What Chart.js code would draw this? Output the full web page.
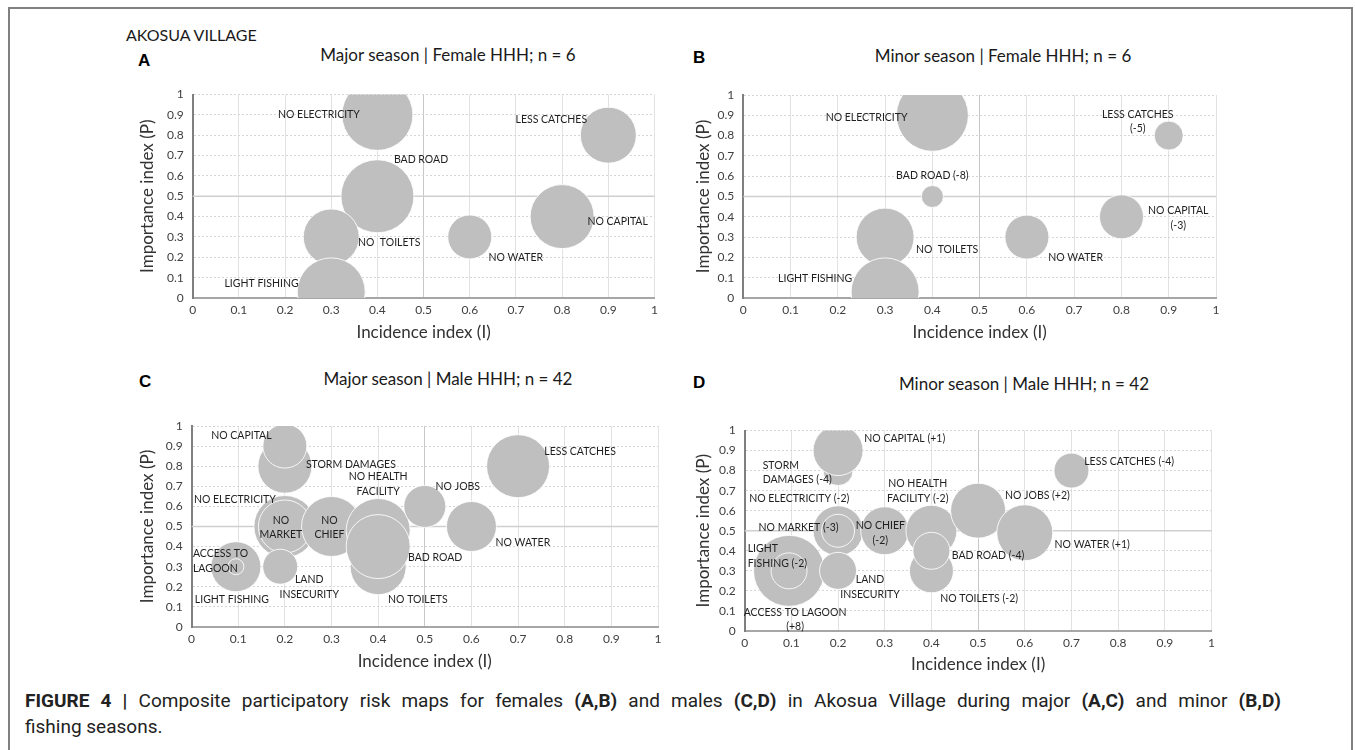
<!DOCTYPE html>
<html>
<head>
<meta charset="utf-8">
<script src="https://cdn.jsdelivr.net/npm/chart.js@4.4.0/dist/chart.umd.min.js"></script>
<style>
  html, body { margin:0; padding:0; }
  body { width:1355px; height:750px; background:#fff; position:relative; overflow:hidden; font-family: Lato, sans-serif; }
  #frame { position:absolute; left:8px; top:7px; width:1345px; height:800px; border:2px solid #808080; border-bottom:none; box-sizing:border-box; }
  canvas.cv { position:absolute; }
  .txt { position:absolute; white-space:nowrap; transform:translate(-50%,-50%); line-height:1; }
  .ptitle { font:17px Lato, sans-serif; color:#1a1a1a; }
  .letter { font:bold 17px "Liberation Sans", Arial, sans-serif; color:#000; transform:translate(0,-50%); }
  #village { font:16px Lato, sans-serif; color:#1a1a1a; transform:translate(0,-50%); }
  #caption { position:absolute; left:25px; top:688px; width:1256px; font:19px Roboto, sans-serif; color:#222; line-height:26px; }
  #caption .l1 { text-align:justify; text-align-last:justify; white-space:normal; }
  #caption b { font-weight:700; }
</style>
</head>
<body>
<div id="frame"></div>
<div id="village" class="txt" style="left:126px; top:34px;">AKOSUA VILLAGE</div>
<div class="txt letter" style="left:138px; top:61px;">A</div>
<div class="txt letter" style="left:693px; top:58px;">B</div>
<div class="txt letter" style="left:139px; top:382px;">C</div>
<div class="txt letter" style="left:693px; top:383px;">D</div>
<div class="txt ptitle" style="left:448px; top:54px;">Major season | Female HHH; n = 6</div>
<div class="txt ptitle" style="left:1003px; top:55px;">Minor season | Female HHH; n = 6</div>
<div class="txt ptitle" style="left:448px; top:378px;">Major season | Male HHH; n = 42</div>
<div class="txt ptitle" style="left:1024px; top:383px;">Minor season | Male HHH; n = 42</div>
<div id="caption"><div class="l1"><b>FIGURE 4 |</b> Composite participatory risk maps for females <b>(A,B)</b> and males <b>(C,D)</b> in Akosua Village during major <b>(A,C)</b> and minor <b>(B,D)</b></div><div>fishing seasons.</div></div>

<script>
// ---------------- DATA ----------------
const tickLabels = ['0','0.1','0.2','0.3','0.4','0.5','0.6','0.7','0.8','0.9','1'];
const xAxisTitle = 'Incidence index (I)';
const yAxisTitle = 'Importance index (P)';

// Panel A: Major season | Female HHH
const risksA      = ['NO ELECTRICITY','LESS CATCHES','BAD ROAD','NO CAPITAL','NO  TOILETS','NO WATER','LIGHT FISHING'];
const incidenceA  = [0.4, 0.9, 0.4, 0.8, 0.3, 0.6, 0.3];
const importanceA = [0.9, 0.8, 0.5, 0.4, 0.3, 0.3, 0.03];
const sizeA       = [35.5, 28, 36.5, 32, 28, 22, 34];

// Panel B: Minor season | Female HHH
const risksB      = ['NO ELECTRICITY','LESS CATCHES\n(-5)','BAD ROAD (-8)','NO CAPITAL\n(-3)','NO  TOILETS','NO WATER','LIGHT FISHING'];
const incidenceB  = [0.4, 0.9, 0.4, 0.8, 0.3, 0.6, 0.3];
const importanceB = [0.9, 0.8, 0.5, 0.4, 0.3, 0.3, 0.03];
const sizeB       = [36, 14.5, 11, 22, 29, 22, 34];

// Panel C: Major season | Male HHH
const risksC      = ['STORM DAMAGES','NO CAPITAL','NO ELECTRICITY','NO\nMARKET','NO\nCHIEF','NO TOILETS','NO HEALTH\nFACILITY','BAD ROAD','NO JOBS','LESS CATCHES','NO WATER','LIGHT FISHING','ACCESS TO\nLAGOON','LAND\nINSECURITY'];
const incidenceC  = [0.2, 0.2, 0.2, 0.2, 0.3, 0.4, 0.4, 0.4, 0.5, 0.7, 0.6, 0.095, 0.095, 0.19];
const importanceC = [0.8, 0.9, 0.5, 0.5, 0.5, 0.3, 0.48, 0.4, 0.6, 0.8, 0.5, 0.3, 0.3, 0.3];
const sizeC       = [27, 22, 31, 26.5, 30, 28, 32, 32, 21, 31.5, 25, 25, 8, 17.5];

// Panel D: Minor season | Male HHH
const risksD      = ['STORM\nDAMAGES (-4)','NO CAPITAL (+1)','NO ELECTRICITY (-2)','NO MARKET (-3)','NO CHIEF\n(-2)','NO TOILETS (-2)','NO HEALTH\nFACILITY (-2)','BAD ROAD (-4)','NO JOBS (+2)','LESS CATCHES (-4)','NO WATER (+1)','ACCESS TO LAGOON\n(+8)','LIGHT\nFISHING (-2)','LAND\nINSECURITY'];
const incidenceD  = [0.2, 0.2, 0.2, 0.2, 0.3, 0.4, 0.4, 0.4, 0.5, 0.7, 0.6, 0.095, 0.095, 0.2];
const importanceD = [0.8, 0.9, 0.5, 0.5, 0.5, 0.3, 0.5, 0.4, 0.6, 0.8, 0.49, 0.3, 0.3, 0.3];
const sizeD       = [15, 25, 25, 16.5, 24, 22, 25.5, 18.5, 27.5, 17.5, 28, 35.5, 18, 18.5];

// ---------------- LAYOUT (label offsets in px from bubble centre) ----------------
const labelPosA = [[-58.5,0],[-57,-15.5],[43.6,-37],[55.5,5],[58,6],[46,21],[-69.7,-8]];
const labelPosB = [[-65.8,2],[-31,-21],[0,-20.5],[56.8,-6],[62,13],[48.7,21],[-70,-13]];
const labelPosC = [[66,-2],[-43.5,-10],[-50,-27],[-4,-6],[-2,-6],[39.7,33],[0,-53.5],[57,10.6],[33,-20],[62,-15],[51.4,16],[-4,33],[-43,-13,'left'],[29,13]];
const labelPosD = [[-75.4,-5.3,'left'],[66.7,-11.5],[-38.8,-32],[-39.5,-3.5],[-4.4,-5],[47.7,28],[-13.7,-47],[56.6,4.4],[59.3,-15],[57.7,-9],[67.4,12],[6,41.5],[-41.4,-22,'left'],[32,9]];

const panels = [
  {names:risksA, xs:incidenceA, ys:importanceA, rs:sizeA, pos:labelPosA, box:{x0:192.7,x1:673.3,yTop:72.7,yBot:298,xTitleY:333,yTitleX:148}},
  {names:risksB, xs:incidenceB, ys:importanceB, rs:sizeB, pos:labelPosB, box:{x0:743.3,x1:1235,yTop:73,yBot:298,xTitleY:333,yTitleX:704}},
  {names:risksC, xs:incidenceC, ys:importanceC, rs:sizeC, pos:labelPosC, box:{x0:191.6,x1:672.7,yTop:408,yBot:627,xTitleY:662,yTitleX:148}},
  {names:risksD, xs:incidenceD, ys:importanceD, rs:sizeD, pos:labelPosD, box:{x0:744.7,x1:1229.4,yTop:409.3,yBot:631,xTitleY:665,yTitleX:704}}
];

const BUBBLE_FILL = '#bfbfbf';
const BUBBLE_EDGE = 'rgba(255,255,255,0.85)';
const LABEL_FONT = '10.5px Lato, sans-serif';
const LABEL_COLOR = '#1f1f1f';
const LABEL_LINE = 14.5;
const AXIS_FONT = {family:'Lato, sans-serif', size:17, lineHeight:1.2};
const TICK_FONT = {family:'Lato, sans-serif', size:12};

function makeLabelPlugin(names, pos) {
  return {
    id: 'bubbleLabels',
    beforeDatasetsDraw(chart) {
      // solid quadrant line at importance 0.5
      const {ctx, chartArea, scales} = chart;
      const y5 = scales.y.getPixelForValue(0.5);
      ctx.save();
      ctx.strokeStyle = '#cfcfcf';
      ctx.lineWidth = 1.5;
      ctx.setLineDash([]);
      ctx.beginPath();
      ctx.moveTo(chartArea.left, y5);
      ctx.lineTo(chartArea.right, y5);
      ctx.stroke();
      ctx.restore();
    },
    afterDatasetsDraw(chart) {
      const meta = chart.getDatasetMeta(0);
      const ctx = chart.ctx;
      ctx.save();
      ctx.font = LABEL_FONT;
      ctx.fillStyle = LABEL_COLOR;
      ctx.textBaseline = 'middle';
      names.forEach((name, i) => {
        const el = meta.data[i];
        const p = pos[i];
        ctx.textAlign = p[2] || 'center';
        name.split('\n').forEach((line, k) => {
          ctx.fillText(line, el.x + p[0], el.y + p[1] + k * LABEL_LINE);
        });
      });
      ctx.restore();
    }
  };
}

panels.forEach(p => {
  const b = p.box;
  const left = Math.floor(b.yTitleX - 15);
  const top = Math.floor(b.yTop - 15);
  const right = Math.ceil(b.x1 + 18);
  const bottom = Math.ceil(b.xTitleY + 14);
  const W = right - left, H = bottom - top;
  const yScaleW = b.x0 - left;
  const xScaleH = bottom - b.yBot;
  const lh = AXIS_FONT.size * AXIS_FONT.lineHeight;

  const cv = document.createElement('canvas');
  cv.className = 'cv';
  cv.width = W; cv.height = H;
  cv.style.left = left + 'px';
  cv.style.top = top + 'px';
  cv.style.width = W + 'px';
  cv.style.height = H + 'px';
  document.body.appendChild(cv);

  const data = p.xs.map((x, i) => ({x: x, y: p.ys[i], r: p.rs[i]}));

  new Chart(cv.getContext('2d'), {
    type: 'bubble',
    data: {
      datasets: [{
        data: data,
        clip: 0,
        backgroundColor: BUBBLE_FILL,
        borderColor: BUBBLE_EDGE,
        borderWidth: 1
      }]
    },
    options: {
      responsive: false,
      devicePixelRatio: 1,
      animation: false,
      events: [],
      layout: { padding: { left: 0, top: b.yTop - top, right: right - b.x1, bottom: 0 } },
      plugins: { legend: { display: false }, tooltip: { enabled: false }, title: { display: false } },
      scales: {
        x: {
          type: 'linear', min: 0, max: 1,
          afterFit: s => { s.height = xScaleH; },
          ticks: { stepSize: 0.1, autoSkip: false, maxRotation: 0, padding: 5, color: '#404040', font: TICK_FONT,
                   callback: (v, i) => tickLabels[i] },
          grid: { drawTicks: false, lineWidth: 1,
                  color: c => (c.tick && Math.abs(c.tick.value - 0.5) < 1e-6) ? '#c8c8c8' : '#e2e2e2' },
          border: { display: true, color: '#a6a6a6', width: 2 },
          title: { display: true, text: xAxisTitle, color: '#333333', font: AXIS_FONT,
                   padding: { top: 0, bottom: bottom - lh / 2 - b.xTitleY } }
        },
        y: {
          type: 'linear', min: 0, max: 1,
          afterFit: s => { s.width = yScaleW; },
          ticks: { stepSize: 0.1, autoSkip: false, padding: 9, color: '#404040', font: TICK_FONT,
                   callback: (v, i) => tickLabels[i] },
          grid: { drawTicks: false, lineWidth: 1, color: '#d6d6d6' },
          border: { display: true, color: '#7f7f7f', width: 2, dash: [2, 2] },
          title: { display: true, text: yAxisTitle, color: '#333333', font: AXIS_FONT,
                   padding: { top: b.yTitleX - left - lh / 2, bottom: 0 } }
        }
      }
    },
    plugins: [makeLabelPlugin(p.names, p.pos)]
  });
});
</script>
</body>
</html>
